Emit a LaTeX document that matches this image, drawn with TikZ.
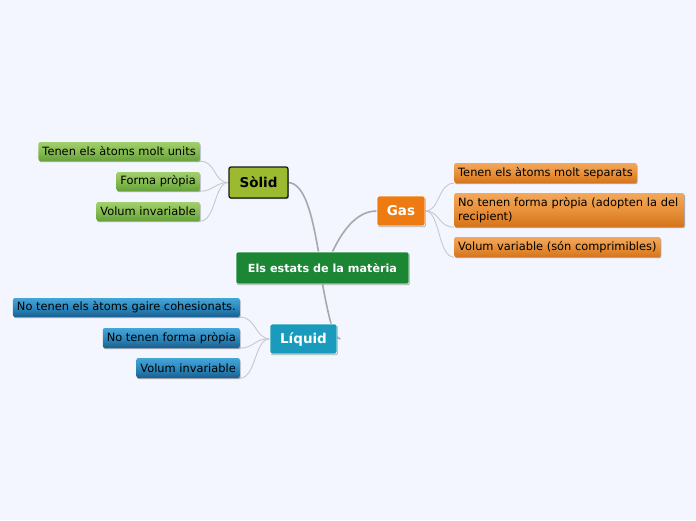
\documentclass[tikz,border=0pt]{standalone}
\usepackage{fontspec}
\setmainfont{DejaVu Sans}
\usetikzlibrary{shadows,calc}
\definecolor{bgc}{HTML}{F3F6FE}
\definecolor{centralc}{HTML}{1B8735}
\definecolor{solidc}{HTML}{9BBA2F}
\definecolor{gasc}{HTML}{EE7B11}
\definecolor{liqc}{HTML}{1A9BBE}
\definecolor{gtop}{HTML}{A3CF6E}
\definecolor{gmid}{HTML}{86BC50}
\definecolor{gbot}{HTML}{64A03A}
\definecolor{otop}{HTML}{F3A85C}
\definecolor{omid}{HTML}{E8913A}
\definecolor{obot}{HTML}{D4741C}
\definecolor{btop}{HTML}{45A5D6}
\definecolor{bmid}{HTML}{2C89BF}
\definecolor{bbot}{HTML}{1A5F8E}
\definecolor{mainline}{HTML}{A8A8A8}
\definecolor{subline}{HTML}{C8C8C8}
\pgfdeclarelayer{bg}
\pgfdeclarelayer{lines}
\pgfsetlayers{bg,lines,main}
\tikzset{
  shad/.style={drop shadow={shadow xshift=0.8pt,shadow yshift=-1.2pt,opacity=0.3,fill=black}},
  topic/.style={shad,rounded corners=2pt,inner sep=0pt,font=\fontsize{13.5}{16}\selectfont\bfseries},
  centralbox/.style={shad,rounded corners=2pt,inner sep=0pt,fill=centralc,text=white,draw=white,line width=0.6pt,
     minimum width=173pt,minimum height=32pt,font=\fontsize{11.2}{13}\selectfont\bfseries},
  leaf/.style={shad,rounded corners=2pt,inner xsep=4pt,inner ysep=0pt,minimum height=19pt,
     font=\fontsize{11.4}{14.5}\selectfont,text=black},
  gleaf/.style={leaf,top color=gtop,bottom color=gbot,middle color=gmid,anchor=east},
  oleaf/.style={leaf,top color=otop,bottom color=obot,middle color=omid,anchor=west},
  bleaf/.style={leaf,top color=btop,bottom color=bbot,middle color=bmid,anchor=east},
  mline/.style={draw=mainline,line width=1.6pt},
  sline/.style={draw=subline,line width=0.9pt},
}
\begin{document}
\begin{tikzpicture}[x=1pt,y=-1pt]
\begin{pgfonlayer}{bg}
\fill[bgc] (0,0) rectangle (696,520);
\end{pgfonlayer}
\useasboundingbox (0,0) rectangle (696,520);

\node[centralbox] (c) at (322.5,268) {Els estats de la matèria};
\node[topic,fill=solidc,draw=black!90,line width=1.3pt,minimum width=59pt,minimum height=31pt] (sol) at (258.5,182.5) {Sòlid};
\node[topic,fill=gasc,draw=white,line width=0.8pt,text=white,minimum width=48pt,minimum height=30pt] (gas) at (401,211) {Gas};
\node[topic,fill=liqc,draw=white,line width=0.8pt,text=white,minimum width=67pt,minimum height=30pt] (liq) at (303.5,339) {Líquid};

\node[gleaf] (s1) at (200,151.5) {Tenen els àtoms molt units};
\node[gleaf] (s2) at (200,181.5) {Forma pròpia};
\node[gleaf] (s3) at (200,211.5) {Volum invariable};

\node[oleaf,minimum height=20pt] (g1) at (454,173) {Tenen els àtoms molt separats};
\node[oleaf,minimum height=34pt,text width=222pt,align=left] (g2) at (454,210) {No tenen forma pròpia (adopten la del\\recipient)};
\node[oleaf,minimum height=20pt] (g3) at (454,247) {Volum variable (són comprimibles)};

\node[bleaf] (l1) at (240,307.5) {No tenen els àtoms gaire cohesionats.};
\node[bleaf,minimum height=20pt] (l2) at (240,338) {No tenen forma pròpia};
\node[bleaf,minimum height=20pt] (l3) at (240,368) {Volum invariable};

\begin{pgfonlayer}{lines}
\draw[mline] ($(c.north)+(-4,0)$) .. controls (312,215) and (305,184) .. (sol.east);
\draw[mline] ($(c.north)+(10,0)$) .. controls (345,225) and (360,211) .. (gas.west);
\draw[mline] (c.south) .. controls (329,318) and (333,338) .. ($(liq.east)+(3,0)$);

\draw[sline] (sol.west) .. controls (214,183) and (216,161) .. (s1.south east);
\draw[sline] (sol.west) .. controls (214,183) and (214,191) .. (s2.south east);
\draw[sline] (sol.west) .. controls (214,183) and (216,221) .. (s3.south east);

\draw[sline] (gas.east) .. controls (440,211) and (438,183) .. (g1.south west);
\draw[sline] (gas.east) .. controls (440,211) and (438,227) .. (g2.south west);
\draw[sline] (gas.east) .. controls (440,211) and (438,257) .. (g3.south west);

\draw[sline] (liq.west) .. controls (255,338) and (256,317) .. (l1.south east);
\draw[sline] (liq.west) .. controls (255,338) and (254,348) .. (l2.south east);
\draw[sline] (liq.west) .. controls (255,338) and (256,378) .. (l3.south east);
\end{pgfonlayer}
\end{tikzpicture}
\end{document}
